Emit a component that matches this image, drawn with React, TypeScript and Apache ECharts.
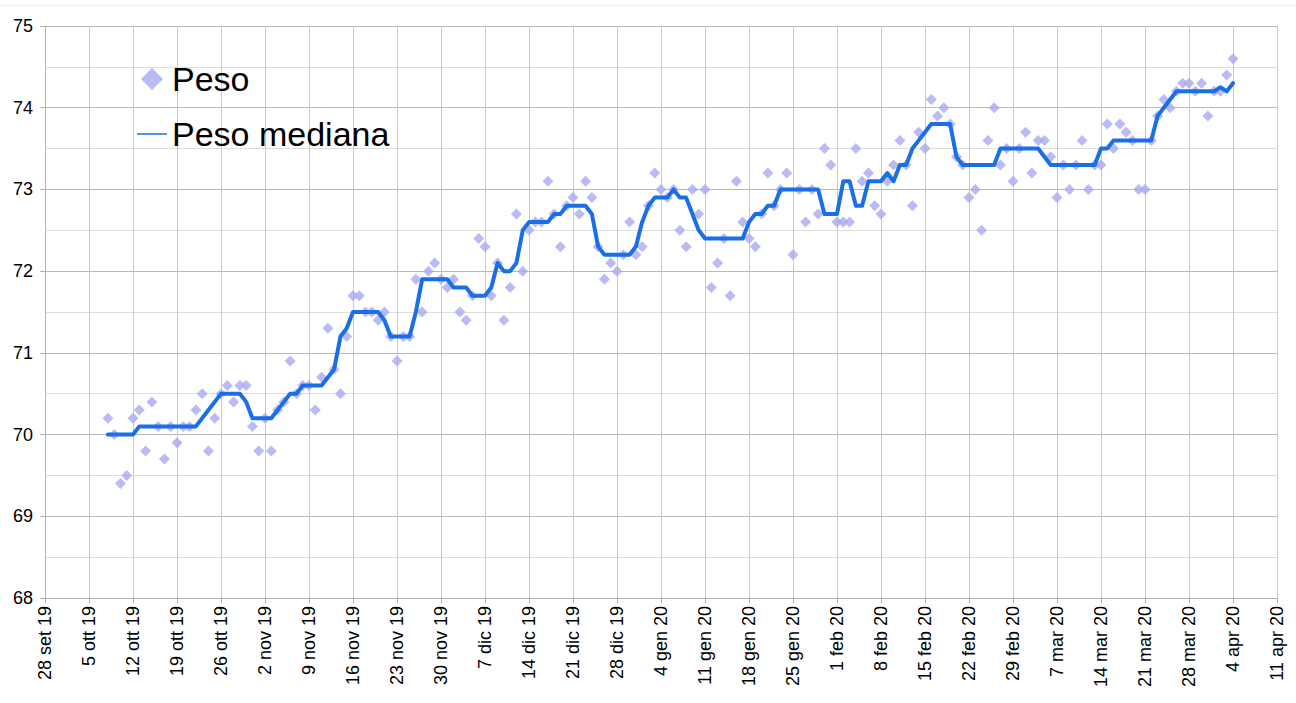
import React, { useEffect, useRef } from "react";
import * as echarts from "echarts";

// X axis: days counted from 28 set 2019, weekly ticks
const xTickLabels = [
  "28 set 19", "5 ott 19", "12 ott 19", "19 ott 19", "26 ott 19", "2 nov 19",
  "9 nov 19", "16 nov 19", "23 nov 19", "30 nov 19", "7 dic 19", "14 dic 19",
  "21 dic 19", "28 dic 19", "4 gen 20", "11 gen 20", "18 gen 20", "25 gen 20",
  "1 feb 20", "8 feb 20", "15 feb 20", "22 feb 20", "29 feb 20", "7 mar 20",
  "14 mar 20", "21 mar 20", "28 mar 20", "4 apr 20", "11 apr 20",
];

// first measurement: 8 ott 2019 = day 10 after 28 set 2019, one value per day
const firstDay = 10;

const peso = [
  70.2, 70.0, 69.4, 69.5, 70.2, 70.3, 69.8, 70.4, 70.1, 69.7,
  70.1, 69.9, 70.1, 70.1, 70.3, 70.5, 69.8, 70.2, 70.5, 70.6,
  70.4, 70.6, 70.6, 70.1, 69.8, 70.2, 69.8, 70.3, 70.4, 70.9,
  70.5, 70.6, 70.6, 70.3, 70.7, 71.3, 70.8, 70.5, 71.2, 71.7,
  71.7, 71.5, 71.5, 71.4, 71.5, 71.2, 70.9, 71.2, 71.2, 71.9,
  71.5, 72.0, 72.1, 71.9, 71.8, 71.9, 71.5, 71.4, 71.7, 72.4,
  72.3, 71.7, 72.1, 71.4, 71.8, 72.7, 72.0, 72.5, 72.6, 72.6,
  73.1, 72.7, 72.3, 72.8, 72.9, 72.7, 73.1, 72.9, 72.3, 71.9,
  72.1, 72.0, 72.2, 72.6, 72.2, 72.3, 72.8, 73.2, 73.0, 72.9,
  73.0, 72.5, 72.3, 73.0, 72.7, 73.0, 71.8, 72.1, 72.4, 71.7,
  73.1, 72.6, 72.4, 72.3, 72.7, 73.2, 72.8, 73.0, 73.2, 72.2,
  73.0, 72.6, 73.0, 72.7, 73.5, 73.3, 72.6, 72.6, 72.6, 73.5,
  73.1, 73.2, 72.8, 72.7, 73.1, 73.3, 73.6, 73.3, 72.8, 73.7,
  73.5, 74.1, 73.9, 74.0, 73.8, 73.4, 73.3, 72.9, 73.0, 72.5,
  73.6, 74.0, 73.3, 73.5, 73.1, 73.5, 73.7, 73.2, 73.6, 73.6,
  73.4, 72.9, 73.3, 73.0, 73.3, 73.6, 73.0, 73.3, 73.3, 73.8,
  73.5, 73.8, 73.7, 73.6, 73.0, 73.0, 73.6, 73.9, 74.1, 74.0,
  74.2, 74.3, 74.3, 74.2, 74.3, 73.9, 74.2, 74.2, 74.4, 74.6,
];

const pesoMediana = [
  70.0, 70.0, 70.0, 70.0, 70.0, 70.1, 70.1, 70.1, 70.1, 70.1,
  70.1, 70.1, 70.1, 70.1, 70.1, 70.2, 70.3, 70.4, 70.5, 70.5,
  70.5, 70.5, 70.4, 70.2, 70.2, 70.2, 70.2, 70.3, 70.4, 70.5,
  70.5, 70.6, 70.6, 70.6, 70.6, 70.7, 70.8, 71.2, 71.3, 71.5,
  71.5, 71.5, 71.5, 71.5, 71.4, 71.2, 71.2, 71.2, 71.2, 71.5,
  71.9, 71.9, 71.9, 71.9, 71.9, 71.8, 71.8, 71.8, 71.7, 71.7,
  71.7, 71.8, 72.1, 72.0, 72.0, 72.1, 72.5, 72.6, 72.6, 72.6,
  72.6, 72.7, 72.7, 72.8, 72.8, 72.8, 72.8, 72.7, 72.3, 72.2,
  72.2, 72.2, 72.2, 72.2, 72.3, 72.6, 72.8, 72.9, 72.9, 72.9,
  73.0, 72.9, 72.9, 72.7, 72.5, 72.4, 72.4, 72.4, 72.4, 72.4,
  72.4, 72.4, 72.6, 72.7, 72.7, 72.8, 72.8, 73.0, 73.0, 73.0,
  73.0, 73.0, 73.0, 73.0, 72.7, 72.7, 72.7, 73.1, 73.1, 72.8,
  72.8, 73.1, 73.1, 73.1, 73.2, 73.1, 73.3, 73.3, 73.5, 73.6,
  73.7, 73.8, 73.8, 73.8, 73.8, 73.4, 73.3, 73.3, 73.3, 73.3,
  73.3, 73.3, 73.5, 73.5, 73.5, 73.5, 73.5, 73.5, 73.5, 73.4,
  73.3, 73.3, 73.3, 73.3, 73.3, 73.3, 73.3, 73.3, 73.5, 73.5,
  73.6, 73.6, 73.6, 73.6, 73.6, 73.6, 73.6, 73.9, 74.0, 74.1,
  74.2, 74.2, 74.2, 74.2, 74.2, 74.2, 74.2, 74.25, 74.2, 74.3,
];

const yMin = 68;
const yMax = 75;

export default function App() {
  const ref = useRef<HTMLDivElement>(null);

  useEffect(() => {
    if (!ref.current) return;
    const chart = echarts.init(ref.current, null, { renderer: "svg" });
    const font = '"Liberation Sans", Arial, Helvetica, sans-serif';
    const pesoData = peso.map((v, i) => [firstDay + i, v]);
    const medianaData = pesoMediana.map((v, i) => [firstDay + i, v]);

    chart.setOption({
      animation: false,
      backgroundColor: "#ffffff",
      textStyle: { fontFamily: font },
      graphic: [
        {
          type: "line",
          shape: { x1: 0, y1: 5.5, x2: 1296, y2: 5.5 },
          style: { stroke: "#ececec", lineWidth: 1 },
          silent: true,
        },
      ],
      grid: { left: 45, right: 19, top: 26, bottom: 105, containLabel: false },
      legend: {
        orient: "vertical",
        left: 132,
        top: 54,
        itemWidth: 30,
        itemHeight: 22,
        itemGap: 15,
        symbolKeepAspect: true,
        textStyle: {
          fontSize: 34,
          lineHeight: 40,
          color: "#000000",
          fontFamily: font,
        },
        data: [
          {
            name: "Peso",
            icon: "path://M10,0 L20,10 L10,20 L0,10 Z",
            itemStyle: { color: "#a9aaf3" },
          },
          {
            name: "Peso mediana",
            icon: "path://M0,0 L60,0 L60,3 L0,3 Z",
            itemStyle: { color: "#1a6ee8" },
          },
        ],
      },
      xAxis: {
        type: "value",
        min: 0,
        max: 196,
        interval: 7,
        axisLine: { show: true, lineStyle: { color: "#b3b3b3", width: 1 } },
        axisTick: { show: true, length: 5, lineStyle: { color: "#b3b3b3" } },
        axisLabel: {
          rotate: 90,
          margin: 8,
          fontSize: 18,
          color: "#000000",
          fontFamily: font,
          formatter: (v: number) => xTickLabels[Math.round(v / 7)] ?? "",
        },
        splitLine: { show: true, lineStyle: { color: "#c9c9c9", width: 1 } },
      },
      yAxis: {
        type: "value",
        min: yMin,
        max: yMax,
        interval: 1,
        axisLine: { show: true, lineStyle: { color: "#b3b3b3", width: 1 } },
        axisTick: { show: true, length: 5, lineStyle: { color: "#b3b3b3" } },
        axisLabel: {
          margin: 12,
          fontSize: 18,
          color: "#000000",
          fontFamily: font,
        },
        splitLine: { show: true, lineStyle: { color: "#b8b8b8", width: 1 } },
        minorTick: { show: false, splitNumber: 2 },
        minorSplitLine: { show: true, lineStyle: { color: "#dedede", width: 1 } },
      },
      series: [
        {
          name: "Peso",
          type: "scatter",
          symbol: "diamond",
          symbolSize: 11,
          itemStyle: { color: "#a9aaf3" },
          data: pesoData,
          z: 2,
        },
        {
          name: "Peso mediana",
          type: "line",
          symbol: "none",
          showSymbol: false,
          smooth: false,
          itemStyle: { color: "#1a6ee8" },
          lineStyle: { color: "#1a6ee8", width: 4, cap: "round", join: "round" },
          data: medianaData,
          z: 3,
        },
      ],
    });

    return () => chart.dispose();
  }, []);

  return (
    <div
      ref={ref}
      style={{ position: "fixed", left: 0, top: 0, width: 1296, height: 703, background: "#fff" }}
    />
  );
}
